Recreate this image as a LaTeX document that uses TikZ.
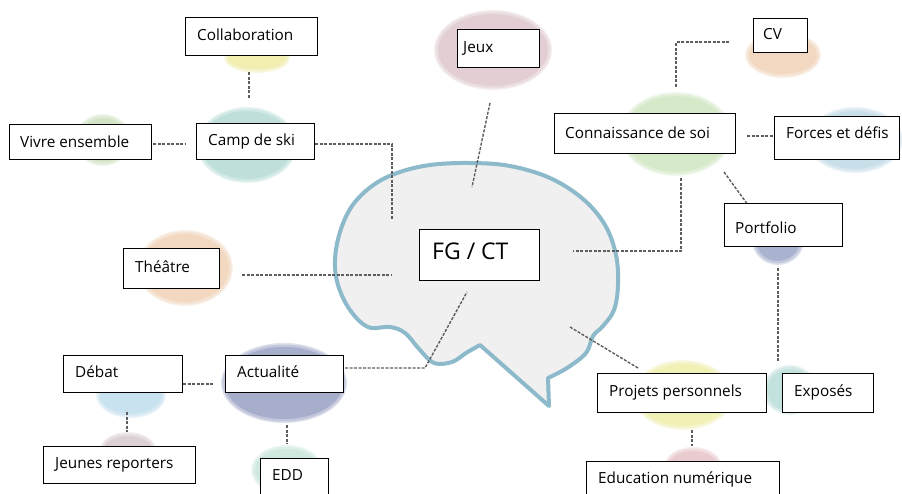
\documentclass[tikz,border=0pt]{standalone}
\usepackage{fontspec}
\setmainfont{Open Sans}
\usetikzlibrary{shapes.geometric}
\definecolor{brainline}{HTML}{8CBACB}
\definecolor{brainfill}{HTML}{F0F0F1}
\definecolor{cYel}{HTML}{F2EDB0}
\definecolor{cTeal}{HTML}{BFE0DA}
\definecolor{cGreen}{HTML}{D3E4C6}
\definecolor{cOrange}{HTML}{F2D8C0}
\definecolor{cMauve}{HTML}{E3CFD3}
\definecolor{cConn}{HTML}{D6EAC9}
\definecolor{cBlue}{HTML}{C8DFEA}
\definecolor{cViolet}{HTML}{A9B3D0}
\definecolor{cActu}{HTML}{A6AECC}
\definecolor{cSky}{HTML}{C8E2F0}
\definecolor{cMauve2}{HTML}{DDD0D5}
\definecolor{cMint}{HTML}{CFE9DE}
\definecolor{cYel2}{HTML}{F1F0B5}
\definecolor{cTeal2}{HTML}{C2E2DE}
\definecolor{cPink}{HTML}{EACBD0}
\definecolor{connline}{HTML}{5E5E5E}
% soft blob: name, x, y, rx, ry, colour
\newcommand\softblob[6]{%
  \fill[#6, opacity=0.35] (#2,#3) ellipse [x radius=#4+3, y radius=#5+3];
  \fill[#6, opacity=0.5] (#2,#3) ellipse [x radius=#4+1.5, y radius=#5+1.5];
  \node[blob, fill=#6, minimum width=2*#4-2, minimum height=2*#5-2] (#1) at (#2,#3) {};}
\begin{document}
\begin{tikzpicture}[x=1pt,y=-1pt,
  box/.style={draw=black, line width=1pt, fill=white, inner sep=0pt, anchor=north west},
  lbl/.style={anchor=base west, inner sep=0pt, font=\fontsize{15.3}{18}\selectfont},
  biglbl/.style={anchor=base west, inner sep=0pt, font=\fontsize{23}{27}\selectfont},
  conn/.style={draw=connline, line width=1.4pt, dash pattern=on 3pt off 1.5pt},
  blob/.style={ellipse, inner sep=0pt, draw=none}]
\useasboundingbox[fill=white] (0,0) rectangle (902,493);

% blobs
\softblob{bCollab}{257}{58}{30}{12}{cYel}
\softblob{bCamp}{247}{145}{47}{35}{cTeal}
\softblob{bVivre}{103}{140}{25}{23}{cGreen}
\softblob{bTheatre}{185}{268}{45}{35}{cOrange}
\softblob{bJeux}{493}{50}{56}{37}{cMauve}
\softblob{bCV}{783}{55}{35}{20}{cOrange}
\softblob{bConn}{676}{134}{53}{39}{cConn}
\softblob{bForces}{855}{140}{45}{30}{cBlue}
\softblob{bPortfolio}{778}{240}{23}{22}{cViolet}
\softblob{bActu}{284}{383}{60}{37}{cActu}
\softblob{bDebat}{131}{395}{32}{20}{cSky}
\softblob{bJeunes}{128}{450}{25}{15}{cMauve2}
\softblob{bEDD}{287}{470}{33}{22}{cMint}
\softblob{bProjets}{683}{395}{47}{32}{cYel2}
\softblob{bExposes}{790}{390}{24}{22}{cTeal2}
\softblob{bEduc}{693}{465}{25}{15}{cPink}

% brain
\draw[brainline, line width=4pt, fill=brainfill, line join=round]
  plot[smooth, tension=0.6] coordinates {(480,345) (466,353) (452,362) (434,363) (420,350) (405,333) (390,327) (368,327) (350,310) (338,285) (335,260) (340,232) (352,206) (372,186) (397,173) (430,165) (470,163) (510,166) (550,178) (583,199) (605,225) (616,255) (618,285) (614,310) (603,326) (593,336) (586,353) (567,368) (548,378)}
  -- (549,406) -- cycle;

% connector end points
\coordinate (k1a) at (249,72);  \coordinate (k1b) at (249,98);
\coordinate (k2a) at (153,144); \coordinate (k2b) at (186,144);
\coordinate (k3a) at (315,144); \coordinate (k3c) at (392,144); \coordinate (k3b) at (392,220);
\coordinate (k4a) at (490,103); \coordinate (k4b) at (472,187);
\coordinate (k5a) at (729,42);  \coordinate (k5c) at (676,42);  \coordinate (k5b) at (676,88);
\coordinate (k6a) at (747,136); \coordinate (k6b) at (773,136);
\coordinate (k7a) at (724,172); \coordinate (k7b) at (748,205);
\coordinate (k8a) at (681,178); \coordinate (k8c) at (681,251); \coordinate (k8b) at (573,251);
\coordinate (k9a) at (778,268); \coordinate (k9b) at (778,362);
\coordinate (k10a) at (570,327); \coordinate (k10b) at (638,368);
\coordinate (k11a) at (692,430); \coordinate (k11b) at (692,446);
\coordinate (k12a) at (242,275); \coordinate (k12b) at (391,275);
\coordinate (k13a) at (345,368); \coordinate (k13c) at (425,368); \coordinate (k13b) at (467,292);
\coordinate (k14a) at (183,384); \coordinate (k14b) at (213,384);
\coordinate (k15a) at (127,412); \coordinate (k15b) at (127,432);
\coordinate (k16a) at (287,425); \coordinate (k16b) at (287,444);

\draw[conn] (k1a) -- (k1b);
\draw[conn] (k2a) -- (k2b);
\draw[conn] (k3a) -- (k3c) -- (k3b);
\draw[conn] (k4a) -- (k4b);
\draw[conn] (k5a) -- (k5c) -- (k5b);
\draw[conn] (k6a) -- (k6b);
\draw[conn] (k7a) -- (k7b);
\draw[conn] (k8a) -- (k8c) -- (k8b);
\draw[conn] (k9a) -- (k9b);
\draw[conn] (k10a) -- (k10b);
\draw[conn] (k11a) -- (k11b);
\draw[conn] (k12a) -- (k12b);
\draw[conn] (k13a) -- (k13c) -- (k13b);
\draw[conn] (k14a) -- (k14b);
\draw[conn] (k15a) -- (k15b);
\draw[conn] (k16a) -- (k16b);

% boxes
\node[box, minimum width=132pt, minimum height=38pt] (collab) at (185,17) {};
\node[lbl] (collabT) at ([shift={(12,23)}]collab.north west) {Collaboration};
\node[box, minimum width=142pt, minimum height=35pt] (vivre) at (9,124) {};
\node[lbl] (vivreT) at ([shift={(11,23)}]vivre.north west) {Vivre ensemble};
\node[box, minimum width=118pt, minimum height=36pt] (camp) at (196,123) {};
\node[lbl] (campT) at ([shift={(12,22)}]camp.north west) {Camp de ski};
\node[box, minimum width=96pt, minimum height=40pt] (theatre) at (123,248) {};
\node[lbl] (theatreT) at ([shift={(12,24)}]theatre.north west) {Théâtre};
\node[box, minimum width=120pt, minimum height=51pt] (fg) at (419,229) {};
\node[biglbl] (fgT) at ([shift={(13,30)}]fg.north west) {FG / CT};
\node[box, minimum width=82pt, minimum height=38pt] (jeux) at (457,29) {};
\node[lbl] (jeuxT) at ([shift={(6,23)}]jeux.north west) {Jeux};
\node[box, minimum width=54pt, minimum height=34pt] (cv) at (753,18) {};
\node[lbl] (cvT) at ([shift={(10,21)}]cv.north west) {CV};
\node[box, minimum width=181pt, minimum height=40pt] (conn) at (554,113) {};
\node[lbl] (connT) at ([shift={(11,25)}]conn.north west) {Connaissance de soi};
\node[box, minimum width=125pt, minimum height=43pt] (forces) at (774,116) {};
\node[lbl] (forcesT) at ([shift={(12,22)}]forces.north west) {Forces et défis};
\node[box, minimum width=118pt, minimum height=43pt] (portfolio) at (724,203) {};
\node[lbl] (portfolioT) at ([shift={(11,30)}]portfolio.north west) {Portfolio};
\node[box, minimum width=119pt, minimum height=37pt] (debat) at (63,355) {};
\node[lbl] (debatT) at ([shift={(12,22)}]debat.north west) {Débat};
\node[box, minimum width=118pt, minimum height=37pt] (actu) at (225,355) {};
\node[lbl] (actuT) at ([shift={(12,22)}]actu.north west) {Actualité};
\node[box, minimum width=152pt, minimum height=37pt] (jeunes) at (43,446) {};
\node[lbl] (jeunesT) at ([shift={(12,22)}]jeunes.north west) {Jeunes reporters};
\node[box, minimum width=68pt, minimum height=42pt] (edd) at (260,458) {};
\node[lbl] (eddT) at ([shift={(12,22)}]edd.north west) {EDD};
\node[box, minimum width=169pt, minimum height=39pt] (projets) at (597,373) {};
\node[lbl] (projetsT) at ([shift={(12,23)}]projets.north west) {Projets personnels};
\node[box, minimum width=91pt, minimum height=39pt] (exposes) at (782,373) {};
\node[lbl] (exposesT) at ([shift={(12,23)}]exposes.north west) {Exposés};
\node[box, minimum width=193pt, minimum height=42pt] (educ) at (586,461) {};
\node[lbl] (educT) at ([shift={(12,22)}]educ.north west) {Education numérique};
\end{tikzpicture}
\end{document}
